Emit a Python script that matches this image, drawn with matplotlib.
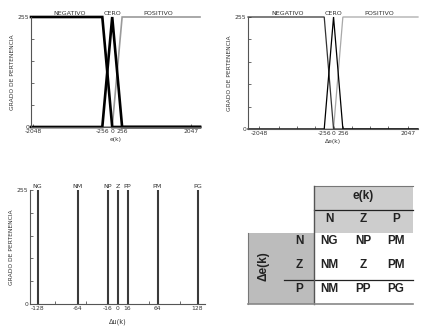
"""
Fuzzy controller figure: input membership functions for e(k) and
delta e(k), output singletons for delta u(k) and the rule table.
"""

import numpy as np
import matplotlib
matplotlib.use("Agg")
import matplotlib.pyplot as plt
from matplotlib.patches import Rectangle


plt.rcParams["font.family"] = ["DejaVu Sans"]

# membership functions of the inputs (x breakpoints, grade values)
e_tick_values = [-2048, -256, 0, 256, 2047]
e_tick_labels = ["-2048", "-256", "0", "256", "2047"]
mf_names = ["NEGATIVO", "CERO", "POSITIVO"]

neg_x = [-2100, -256, 0, 2270]
neg_y = [255, 255, 0, 0]
zero_x = [-2100, -256, 0, 256, 2270]
zero_y = [0, 0, 255, 0, 0]
pos_x = [-2100, 0, 256, 2270]
pos_y = [0, 0, 255, 255]

de_neg_x = [-2350, -256, 0, 2320]
de_zero_x = [-2350, -256, 0, 256, 2320]
de_pos_x = [-2350, 0, 256, 2320]

grade_max = 255

# output singletons
du_names = ["NG", "NM", "NP", "Z", "PP", "PM", "PG"]
du_values = [-128, -64, -16, 0, 16, 64, 128]
du_labels = ["-128", "-64", "-16", "0", "16", "64", "128"]

# rule table
e_cols = ["N", "Z", "P"]
de_rows = ["N", "Z", "P"]
rules = [
    ["NG", "NP", "PM"],
    ["NM", "Z", "PM"],
    ["NM", "PP", "PG"],
]

TXT = "#333333"
SMALL = 4.3


def style_axis(ax, xlim, minor=None):
    ax.set_xlim(*xlim)
    ax.set_ylim(0, grade_max)
    for side in ["top", "right"]:
        ax.spines[side].set_visible(False)
    for side in ["left", "bottom"]:
        ax.spines[side].set_color("#555555")
        ax.spines[side].set_linewidth(0.8)
    ax.set_yticks(np.linspace(0, grade_max, 6))
    ax.set_yticklabels(["0", "", "", "", "", "255"])
    ax.tick_params(direction="in", length=2, width=0.6, colors="#555555",
                   labelsize=SMALL, labelcolor=TXT, pad=1.5)
    if minor is not None:
        ax.set_xticks(minor, minor=True)
        ax.tick_params(axis="x", which="minor", direction="in", length=2,
                       width=0.6, colors="#555555")
    ax.set_ylabel("GRADO DE PERTENENCIA", fontsize=SMALL, color=TXT,
                  labelpad=2)
    ax.patch.set_alpha(0)


def draw_mf(ax, xs, colors, widths, label_x, xlabel):
    ys = [neg_y, zero_y, pos_y]
    # grey one first so the black lines sit on top
    order = [2, 0, 1]
    for i in order:
        ax.plot(xs[i], ys[i], color=colors[i], lw=widths[i], clip_on=False,
                solid_joinstyle="miter")
    for name, lx in zip(mf_names, label_x):
        ax.text(lx, grade_max + 3, name, ha="center", va="bottom",
                fontsize=SMALL + 0.3, color=TXT)
    ax.set_xticks(e_tick_values)
    ax.set_xticklabels(e_tick_labels)
    ax.set_xlabel(xlabel, fontsize=SMALL, color=TXT, labelpad=2)


fig = plt.figure(figsize=(4.32, 3.36), dpi=100)

# e(k)
ax1 = fig.add_axes([31 / 432, 1 - 127 / 336, 169 / 432, 110 / 336])
style_axis(ax1, (-2100, 2270))
draw_mf(ax1, [neg_x, zero_x, pos_x], ["black", "black", "#9a9a9a"],
        [1.9, 1.9, 1.2], [-1100, 0, 1200], "e(k)")

# delta e(k)
ax2 = fig.add_axes([248 / 432, 1 - 129 / 336, 170 / 432, 112 / 336])
style_axis(ax2, (-2350, 2320), minor=[-1500, -1000, -500, 500, 1000, 1500])
draw_mf(ax2, [de_neg_x, de_zero_x, de_pos_x], ["#333333", "black", "#a8a8a8"],
        [0.9, 0.9, 0.9], [-1250, 0, 1250], "Δe(k)")

# delta u(k) singletons
ax3 = fig.add_axes([30 / 432, 1 - 304 / 336, 175 / 432, 114 / 336])
style_axis(ax3, (-140, 140), minor=[-100, -50, 50, 100])
ax3.vlines(du_values, 0, grade_max, color="#3a3a3a", lw=1.5)
for name, v in zip(du_names, du_values):
    ax3.text(v, grade_max + 3, name, ha="center", va="bottom",
             fontsize=SMALL + 0.3, color=TXT)
ax3.set_xticks(du_values)
ax3.set_xticklabels(du_labels)
ax3.set_xlabel("Δu(k)", fontsize=SMALL + 0.5, color=TXT, labelpad=5)

# rule table, drawn in pixel units of the figure
axt = fig.add_axes([240 / 432, 1 - 315 / 336, 192 / 432, 140 / 336])
axt.set_xlim(240, 432)
axt.set_ylim(315, 175)
axt.axis("off")

axt.add_patch(Rectangle((314, 186), 99, 47, facecolor="#cdcdcd",
                        edgecolor="none"))
axt.add_patch(Rectangle((248, 233), 66, 71, facecolor="#bcbcbc",
                        edgecolor="none"))
axt.plot([314, 413], [186, 186], color="#777777", lw=0.8)
axt.plot([314, 413], [210, 210], color="#222222", lw=0.9)
axt.plot([284, 413], [280, 280], color="#222222", lw=0.9)
axt.plot([248, 248], [233, 304], color="#777777", lw=0.8)
axt.plot([314, 314], [186, 304], color="#555555", lw=1.0)
axt.plot([248, 413], [304, 304], color="#888888", lw=1.2)

col_x = [329, 363, 396]
row_y = [241, 265, 289]
tfont = dict(fontsize=8.5, fontweight="bold", color="#222222",
             family="Liberation Sans", ha="center", va="center")

axt.text(363, 196, "e(k)", **tfont)
for name, cx in zip(e_cols, col_x):
    axt.text(cx, 219, name, **tfont)
axt.text(263, 266, "Δe(k)", rotation=90, **tfont)
for name, ry in zip(de_rows, row_y):
    axt.text(299, ry, name, **tfont)
for row, ry in zip(rules, row_y):
    for cell, cx in zip(row, col_x):
        axt.text(cx, ry, cell, **tfont)

fig.savefig("out.png", dpi=100, facecolor="white")
